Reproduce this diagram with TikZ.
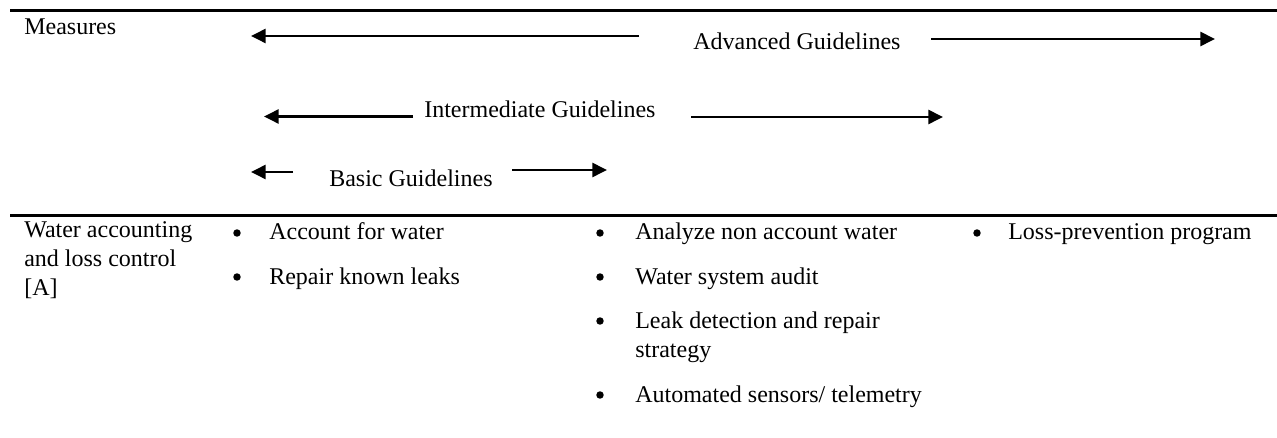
\documentclass[tikz,border=0pt]{standalone}
\usepackage{fontspec}
\setmainfont{Liberation Serif}
\usetikzlibrary{arrows.meta}
\begin{document}
\begin{tikzpicture}[x=0.75pt,y=-0.75pt,
  txt/.style={anchor=base west,inner sep=0pt,font=\fontsize{18}{21}\selectfont},
  bul/.style={circle,fill=black,inner sep=0pt,minimum size=5.6pt},
  rulel/.style={line width=2pt},
  garrow/.style={line width=1.9pt,-{Triangle[length=11pt,width=10.5pt]}}]
\useasboundingbox (0,0) rectangle (1277,438);
% rules
\coordinate (r1a) at (10,10.7);
\coordinate (r1b) at (1277,10.7);
\coordinate (r2a) at (10,215.5);
\coordinate (r2b) at (1277,215.5);
\draw[rulel] (r1a) -- (r1b);
\draw[rulel] (r2a) -- (r2b);
% header
\node[txt] (meas) at (24,34.5) {Measures};
\node[txt] (adv) at (693,50) {Advanced Guidelines};
\node[txt] (int) at (424,118) {Intermediate Guidelines};
\node[txt] (bas) at (329,187) {Basic Guidelines};
% arrows
\coordinate (a1s) at (639,36); \coordinate (a1e) at (251,36);
\coordinate (a2s) at (931,39); \coordinate (a2e) at (1215,39);
\coordinate (i1s) at (413,116.5); \coordinate (i1e) at (264,116.5);
\coordinate (i2s) at (691,117); \coordinate (i2e) at (943,117);
\coordinate (b1s) at (293,172); \coordinate (b1e) at (251,172);
\coordinate (b2s) at (512,170); \coordinate (b2e) at (607,170);
\draw[garrow] (a1s) -- (a1e);
\draw[garrow] (a2s) -- (a2e);
\draw[garrow] (i1s) -- (i1e);
\draw[garrow] (i2s) -- (i2e);
\draw[garrow] (b1s) -- (b1e);
\draw[garrow] (b2s) -- (b2e);
% row label
\node[txt] (w1) at (24,238) {Water accounting};
\node[txt] (w2) at (24,266.5) {and loss control};
\node[txt] (w3) at (24,295) {[A]};
% column 1
\node[bul] (c1b1) at (237,233) {};
\node[txt] (c1t1) at (269,240) {Account for water};
\node[bul] (c1b2) at (237,277) {};
\node[txt] (c1t2) at (269,284) {Repair known leaks};
% column 2
\node[bul] (c2b1) at (600,233) {};
\node[txt] (c2t1) at (635,240) {Analyze non account water};
\node[bul] (c2b2) at (600,277) {};
\node[txt] (c2t2) at (635,284) {Water system audit};
\node[bul] (c2b3) at (600,321) {};
\node[txt] (c2t3) at (635,328) {Leak detection and repair};
\node[txt] (c2t3b) at (635,357) {strategy};
\node[bul] (c2b4) at (600,395) {};
\node[txt] (c2t4) at (635,402) {Automated sensors/ telemetry};
% column 3
\node[bul] (c3b1) at (977,233) {};
\node[txt] (c3t1) at (1008,240) {Loss-prevention program};
\end{tikzpicture}
\end{document}
